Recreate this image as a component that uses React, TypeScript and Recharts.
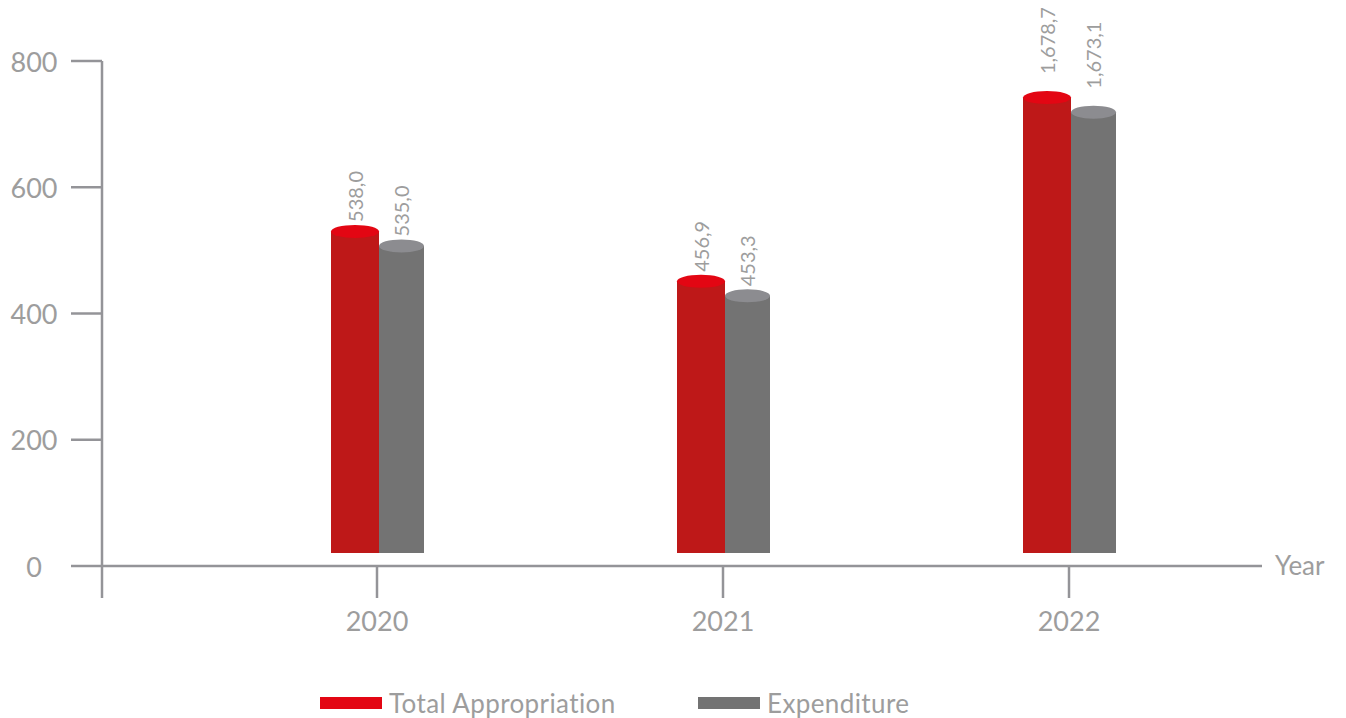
import React from 'react';
import { BarChart, Bar, XAxis, YAxis, LabelList, Legend, ReferenceLine } from 'recharts';

// ---- data ----
const years = ['2020', '2021', '2022'];
const appropriationHeights = [530, 451, 742];
const expenditureHeights = [507, 428, 719];
const appropriationLabels = ['538,0', '456,9', '1,678,7'];
const expenditureLabels = ['535,0', '453,3', '1,673,1'];
const barBase = 20.6;
const yTicks = [0, 200, 400, 600, 800];

const data = years.map((year, i) => ({
  year,
  appropriation: [barBase, appropriationHeights[i]],
  expenditure: [barBase, expenditureHeights[i]],
  appLabel: appropriationLabels[i],
  expLabel: expenditureLabels[i],
}));

// ---- styles ----
const FONT = 'Lato, "Open Sans", sans-serif';
const TEXT = '#9d9d9d';
const AXIS = '#949498';
const RED_BODY = '#be1818';
const RED_TOP = '#e30613';
const GRAY_BODY = '#737373';
const GRAY_TOP = '#8c8c90';
const ELLIPSE_RY = 6.5;
const labelGaps = [3, 3, 17];

const makeCylinder = (body: string, top: string) => (props: any) => {
  const { x, y, width, height } = props;
  if (x == null || width == null) return null;
  const t = height < 0 ? y + height : y;
  const h = Math.abs(height);
  const rx = width / 2;
  return (
    <g>
      <rect x={x} y={t} width={width} height={h} fill={body} />
      <ellipse cx={x + rx} cy={t} rx={rx} ry={ELLIPSE_RY} fill={top} />
    </g>
  );
};

const renderBarLabel = (props: any) => {
  const vb = props.viewBox || {};
  const x = props.x ?? vb.x;
  const y = props.y ?? vb.y;
  const width = props.width ?? vb.width;
  const height = props.height ?? vb.height ?? 0;
  const index = props.index ?? 0;
  const top = height < 0 ? y + height : y;
  const cx = x + width / 2;
  const ty = top - ELLIPSE_RY - labelGaps[index];
  return (
    <text
      x={cx}
      y={ty}
      transform={`rotate(-90 ${cx} ${ty})`}
      textAnchor="start"
      dominantBaseline="central"
      fill={TEXT}
      fontSize={20}
      fontFamily={FONT}
    >
      {props.value}
    </text>
  );
};

const YTick = (props: any) => {
  const { x, y, payload } = props;
  return (
    <g>
      <text x={x - 37} y={y} textAnchor="middle" dominantBaseline="central" fill={TEXT} fontSize={27} fontFamily={FONT}>
        {payload.value}
      </text>
      {payload.value === 0 && (
        <line x1={x + 31} y1={y} x2={x + 31} y2={y + 32} stroke={AXIS} strokeWidth={2.5} />
      )}
    </g>
  );
};

const legendItems = [
  { name: 'Total Appropriation', color: RED_TOP },
  { name: 'Expenditure', color: GRAY_BODY },
];

const renderLegend = () => (
  <div style={{ display: 'flex', paddingLeft: 320, fontFamily: FONT }}>
    {legendItems.map((it) => (
      <div key={it.name} style={{ display: 'flex', alignItems: 'center', width: 378 }}>
        <span style={{ display: 'inline-block', width: 62, height: 12, background: it.color, marginRight: 7 }} />
        <span style={{ fontSize: 26, color: TEXT, lineHeight: '28px', letterSpacing: 0.4 }}>{it.name}</span>
      </div>
    ))}
  </div>
);

export default function App() {
  return (
    <div style={{ position: 'absolute', left: 0, top: 0, width: 1346, height: 718, background: '#fff' }}>
      <BarChart
        width={1346}
        height={718}
        data={data}
        margin={{ top: 61, right: 84, bottom: 92, left: 0 }}
        barGap={0}
        barCategoryGap={0}
      >
        <XAxis
          dataKey="year"
          padding={{ left: 102, right: 20 }}
          height={60}
          tickSize={32}
          tickMargin={14}
          axisLine={{ stroke: AXIS, strokeWidth: 2.5 }}
          tickLine={{ stroke: AXIS, strokeWidth: 2.5 }}
          tick={{ fill: TEXT, fontSize: 27, fontFamily: FONT }}
        />
        <YAxis
          domain={[0, 800]}
          ticks={yTicks}
          width={102}
          tickSize={31}
          tickMargin={0}
          axisLine={{ stroke: AXIS, strokeWidth: 2.5 }}
          tickLine={{ stroke: AXIS, strokeWidth: 2.5 }}
          tick={<YTick />}
          allowDataOverflow
        />
        <ReferenceLine
          y={0}
          stroke="none"
          ifOverflow="visible"
          label={{ value: 'Year', position: 'right', offset: 13, fill: TEXT, fontSize: 26, fontFamily: FONT }}
        />
        <Bar dataKey="appropriation" barSize={48} shape={makeCylinder(RED_BODY, RED_TOP)} isAnimationActive={false}>
          <LabelList dataKey="appLabel" content={renderBarLabel} />
        </Bar>
        <Bar dataKey="expenditure" barSize={45} shape={makeCylinder(GRAY_BODY, GRAY_TOP)} isAnimationActive={false}>
          <LabelList dataKey="expLabel" content={renderBarLabel} />
        </Bar>
        <Legend
          layout="horizontal"
          verticalAlign="middle"
          align="center"
          content={renderLegend}
          wrapperStyle={{ top: 689, left: 0, width: 1346 }}
        />
      </BarChart>
    </div>
  );
}
